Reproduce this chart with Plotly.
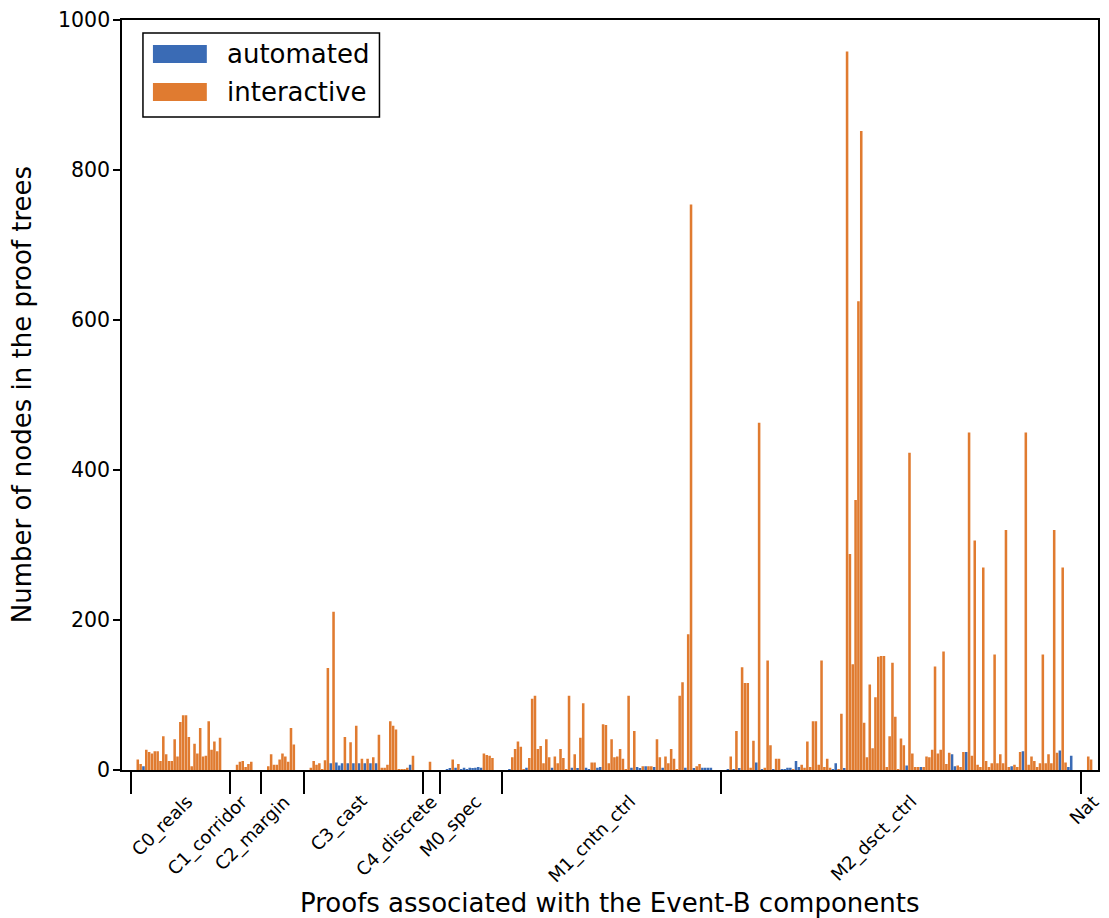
import plotly.graph_objects as go

# ---------------- data ----------------
group_names = ["C0_reals", "C1_corridor", "C2_margin", "C3_cast", "C4_discrete",
               "M0_spec", "M1_cntn_ctrl", "M2_dsct_ctrl", "Nat"]

# number of nodes per proof, in plotted order; kind: a = automated, i = interactive
c0_nodes = [14, 8, 5, 27, 24, 22, 25, 25, 12, 45, 21, 12, 12, 41, 18, 64, 73, 73, 44, 5,
            35, 22, 56, 18, 19, 65, 27, 38, 25, 43]
c0_kind = "iiaiiiiiii" "iiiiiiiiii" "iiiiiiiiii"

c1_nodes = [7, 11, 12, 4, 8, 11]
c1_kind = "iiiiii"

c2_nodes = [5, 21, 7, 7, 14, 22, 18, 11, 56, 34]
c2_kind = "iiiiiiiiii"

c3_nodes = [3, 12, 7, 9, 1, 13, 136, 9, 211, 10, 6, 9, 44, 9, 37, 9, 59, 9, 15, 9,
            15, 9, 17, 9, 47, 3, 3, 7, 65, 59, 54, 1, 1, 1, 3, 7, 19]
c3_kind = "iiiiiii" "a" "i" "aaa" "iaiaiaiaiaia" "iiiiiiiiiii" "a" "i"

c4_nodes = [11]
c4_kind = "i"

m0_nodes = [1, 2, 14, 3, 8, 1, 3, 1, 3, 2, 3, 4, 3, 22, 20, 19, 16]
m0_kind = "aa" "i" "a" "i" "aaaaaaaa" "iiii"

m1_nodes = [1, 17, 28, 38, 31, 1, 3, 16, 95, 99, 28, 32, 9, 41, 17, 3, 18, 9, 28, 16,
            1, 99, 3, 21, 2, 43, 89, 3, 1, 10, 10, 3, 4, 61, 60, 9, 41, 17, 18, 28,
            15, 1, 99, 3, 52, 4, 2, 5, 5, 5, 5, 4, 41, 17, 3, 18, 9, 28, 15, 1,
            99, 117, 3, 181, 754, 2, 5, 8, 3, 3, 3, 3]
m1_kind = ("a" "iiiii" "a" "iiiiiiii" "a" "iiiiii" "a" "i" "a" "ii" "aa" "ii" "aa"
           "iiiiiiiiii" "a" "i" "aa" "i" "a" "ii" "a" "ii" "a" "iiiiiii" "a" "ii" "a"
           "ii" "aaaa")

m2_nodes = [1, 18, 1, 52, 2, 137, 116, 116, 3, 39, 10, 463, 1, 3, 146, 33, 1, 15, 15, 1,
            1, 3, 3, 1, 12, 4, 7, 3, 38, 4, 65, 65, 7, 146, 4, 15, 3, 1, 9, 1,
            75, 2, 958, 288, 141, 360, 625, 852, 63, 17, 114, 29, 97, 151, 152, 152, 4, 45, 143, 71,
            1, 42, 33, 6, 423, 22, 4, 4, 4, 4, 18, 17, 27, 138, 22, 27, 158, 8, 23, 21,
            5, 6, 4, 24, 24, 450, 19, 306, 7, 4, 270, 12, 4, 9, 154, 9, 21, 9, 320, 4,
            5, 7, 4, 24, 25, 450, 7, 18, 12, 4, 9, 154, 9, 21, 9, 320, 23, 26, 270, 10,
            4, 19]
m2_kind = ("a" "i" "a" "i" "a" "iiiii" "a" "i" "a" "iii" "a" "ii" "aaaa" "i" "aa"
           "iiiiiiiiiii" "aa" "ii" "a" "iiiiiiiiiiiiiiiiiiiii" "a" "iiii" "a" "iiiiiiiiii"
           "aa" "iii" "a" "iiiiiiiiiiiiiii" "a" "iii" "a" "iiiiiiiiiiii" "a" "ii" "aa")

nat_nodes = [18, 14]
nat_kind = "ii"

all_nodes = [c0_nodes, c1_nodes, c2_nodes, c3_nodes, c4_nodes, m0_nodes, m1_nodes, m2_nodes, nat_nodes]
all_kinds = [c0_kind, c1_kind, c2_kind, c3_kind, c4_kind, m0_kind, m1_kind, m2_kind, nat_kind]

y_ticks = [0, 200, 400, 600, 800, 1000]

# ---------------- layout constants ----------------
BLUE = "#3A6BB5"
ORANGE = "#E07B30"
FONT = "DejaVu Sans"
GROUP_SPACING = 5          # empty slots between groups
label_shift = [7.4, 4.0, 5.8, 4.4, 5.0, 6.9, 11.5, 8.7, 5.7]   # label anchor shift (slots)

# the page body has an 8px margin: work in screen pixels, subtract it for the figure
OFF = 8
SCREEN_W, SCREEN_H = 1109, 918
W, H = SCREEN_W - OFF, SCREEN_H - OFF
L, R, T, B = 122, 1100, 20, 770        # plot area in screen pixels


def px_x(px):
    return (px - L) / (R - L)


def px_y(py):
    return (B - py) / (B - T)


# ---------------- build positions ----------------
xa, ya, xi, yi = [], [], [], []
starts, centers = [], []
pos = 0
for nodes, kind in zip(all_nodes, all_kinds):
    assert len(nodes) == len(kind), (len(nodes), len(kind))
    starts.append(pos)
    centers.append(pos + (len(nodes) - 1) / 2)
    for j, (v, k) in enumerate(zip(nodes, kind)):
        if k == "a":
            xa.append(pos + j)
            ya.append(v)
        else:
            xi.append(pos + j)
            yi.append(v)
    pos += len(nodes) + GROUP_SPACING

boundaries = [s - 2.5 for s in starts]
x_min = -5.56
x_max = x_min + (R - L) / 2.843


def slot_to_paper(s):
    return (s - x_min) / (x_max - x_min)


fig = go.Figure()
fig.add_trace(go.Bar(x=xa, y=ya, name="automated", marker=dict(color=BLUE, line=dict(width=0)),
                     width=0.9, showlegend=False))
fig.add_trace(go.Bar(x=xi, y=yi, name="interactive", marker=dict(color=ORANGE, line=dict(width=0)),
                     width=0.9, showlegend=False))

fig.update_layout(
    width=W, height=H,
    margin=dict(l=L - OFF, r=W - (R - OFF), t=T - OFF, b=H - (B - OFF), pad=0),
    paper_bgcolor="white", plot_bgcolor="white",
    barmode="overlay",
    font=dict(family=FONT, color="black", size=20),
    showlegend=False,
)
fig.update_xaxes(
    range=[x_min, x_max], showgrid=False, zeroline=False,
    showline=True, mirror=True, linecolor="black", linewidth=2,
    tickmode="array", tickvals=boundaries, ticktext=[""] * len(boundaries),
    ticks="outside", ticklen=22, tickwidth=2, tickcolor="black",
)
fig.update_yaxes(
    range=[0, 1000], showgrid=False, zeroline=False,
    showline=True, mirror=True, linecolor="black", linewidth=2,
    tickmode="array", tickvals=y_ticks, showticklabels=False,
    ticks="outside", ticklen=7, tickwidth=1.5, tickcolor="black",
)

# y tick labels
for v in y_ticks:
    fig.add_annotation(x=px_x(112), xref="paper", y=v, yref="y", text=str(v), showarrow=False,
                       xanchor="right", yanchor="middle", font=dict(size=20.5, family=FONT))

# group labels (rotated, right/top anchored like matplotlib)
for name, c, sh in zip(group_names, centers, label_shift):
    fig.add_annotation(x=slot_to_paper(c + sh), xref="paper", y=0, yref="paper", text=name,
                       showarrow=False, textangle=-45, xanchor="right", yanchor="top",
                       yshift=-18, font=dict(size=18, family=FONT))

# axis titles
fig.add_annotation(x=0.5, xref="paper", y=px_y(903), yref="paper",
                   text="Proofs associated with the Event-B components", showarrow=False,
                   xanchor="center", yanchor="middle", font=dict(size=26, family=FONT))
fig.add_annotation(x=px_x(22), xref="paper", y=0.5, yref="paper",
                   text="Number of nodes in the proof trees", showarrow=False, textangle=-90,
                   xanchor="center", yanchor="middle", font=dict(size=26, family=FONT))

# legend (drawn to match the reference's frame and patches)
fig.add_shape(type="rect", xref="paper", yref="paper", x0=px_x(143), x1=px_x(380),
              y0=px_y(117), y1=px_y(33), line=dict(color="black", width=1.5), fillcolor="white")
for (label, color, cy) in [("automated", BLUE, 54), ("interactive", ORANGE, 92)]:
    fig.add_shape(type="rect", xref="paper", yref="paper", x0=px_x(153), x1=px_x(207),
                  y0=px_y(cy + 9), y1=px_y(cy - 9), line=dict(width=0), fillcolor=color)
    fig.add_annotation(x=px_x(225), xref="paper", y=px_y(cy), yref="paper", text=label,
                       showarrow=False, xanchor="left", yanchor="middle",
                       font=dict(size=26, family=FONT))

fig.write_html("out.html")
